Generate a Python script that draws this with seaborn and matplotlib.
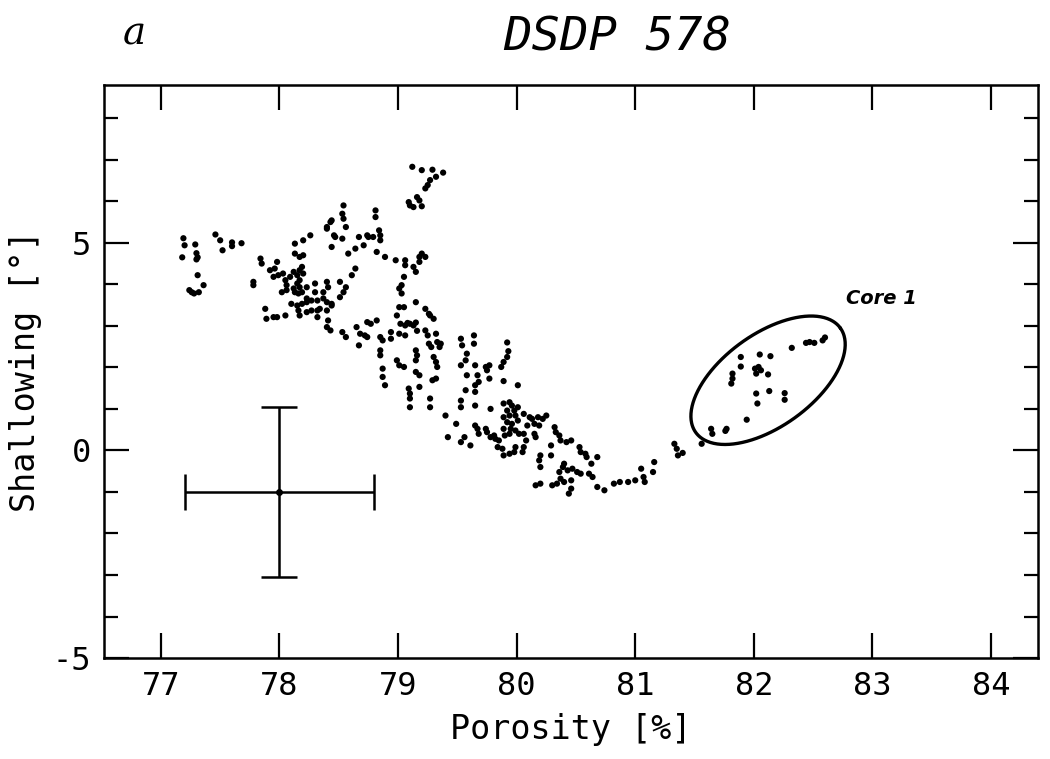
import numpy as np
import pandas as pd
import matplotlib
matplotlib.use("Agg")
import matplotlib.pyplot as plt
import seaborn as sns
from matplotlib.ticker import MultipleLocator

# ---------------- data (porosity [%], shallowing [deg]) ----------------
left_pts = [(77.19, 5.11), (77.20, 4.94), (77.29, 4.96), (77.18, 4.65), (77.30, 4.75),
            (77.31, 4.65), (77.30, 4.60), (77.31, 4.22), (77.26, 3.81), (77.28, 3.78),
            (77.32, 3.81), (77.36, 3.98), (77.24, 3.86), (77.46, 5.20), (77.50, 5.06),
            (77.52, 4.82), (77.60, 5.01), (77.60, 4.92), (77.68, 4.99), (77.78, 4.06),
            (77.78, 3.98)]

cluster_pts = [(77.84, 4.62), (77.85, 4.50), (77.92, 4.34), (77.96, 4.38), (77.98, 4.54),
               (77.95, 4.18), (77.99, 4.22), (78.03, 4.26), (78.05, 4.10), (78.06, 3.98),
               (78.09, 4.18), (78.12, 4.30), (78.15, 4.22), (78.17, 4.34), (78.19, 4.42),
               (78.20, 4.26), (78.17, 4.10), (78.15, 4.02), (78.12, 3.90), (78.17, 3.93),
               (78.19, 3.81), (78.16, 3.78), (78.13, 3.81), (78.06, 3.86), (78.02, 3.81),
               (78.23, 3.93), (78.30, 4.02), (78.30, 3.81), (78.23, 3.66), (78.27, 3.61),
               (78.32, 3.61), (78.37, 3.81), (78.40, 4.06), (78.41, 3.93), (78.37, 3.66),
               (78.40, 3.57), (78.44, 3.53), (78.51, 4.06), (78.56, 3.93), (78.54, 3.81),
               (78.51, 3.69), (78.10, 3.53), (78.15, 3.49), (78.19, 3.53), (78.23, 3.57),
               (78.16, 3.37), (78.17, 3.25), (78.23, 3.33), (78.27, 3.37), (78.32, 3.37),
               (78.34, 3.41), (78.32, 3.21), (78.40, 3.37), (78.41, 3.13), (78.40, 2.97),
               (78.43, 2.89), (78.44, 3.49), (78.53, 2.85), (78.56, 2.73), (77.88, 3.41),
               (77.89, 3.17), (77.95, 3.21), (77.98, 3.21), (78.05, 3.25), (78.13, 4.98),
               (78.20, 5.06), (78.26, 5.18), (78.13, 4.74), (78.17, 4.66), (78.20, 4.70),
               (78.40, 5.38), (78.46, 5.18), (78.44, 4.90), (78.53, 5.10), (78.56, 5.38),
               (78.58, 4.74)]

upper_pts = [(78.54, 5.90), (78.53, 5.70), (78.54, 5.58), (78.44, 5.54), (78.43, 5.50),
             (78.40, 5.34), (78.47, 5.14), (78.81, 5.78), (78.81, 5.62), (78.67, 5.14),
             (78.74, 5.18), (78.75, 5.14), (78.71, 4.94), (78.64, 4.86), (78.84, 5.30),
             (78.85, 5.18), (78.85, 5.06), (78.79, 5.14), (78.82, 4.78), (78.89, 4.66),
             (78.98, 4.58), (79.06, 4.58), (79.06, 4.46), (79.13, 4.42), (79.15, 4.30),
             (79.18, 4.66), (79.20, 4.74), (79.23, 4.66), (79.18, 4.54), (79.05, 4.18),
             (79.03, 3.98), (79.01, 3.90), (79.03, 3.78), (78.64, 4.38), (78.61, 4.22)]

peak_pts = [(79.12, 6.83), (79.20, 6.75), (79.29, 6.76), (79.38, 6.69), (79.32, 6.59),
            (79.27, 6.51), (79.25, 6.39), (79.23, 6.31), (79.16, 6.10), (79.18, 6.02),
            (79.09, 5.98), (79.10, 5.90), (79.13, 5.86), (79.20, 5.88)]

mid_pts = [(78.74, 3.09), (78.82, 3.13), (79.01, 3.45), (79.05, 3.45), (79.15, 3.57),
           (78.99, 3.25), (79.23, 3.41), (79.26, 3.29), (79.30, 3.17), (79.02, 3.05),
           (79.08, 3.07), (79.15, 3.08), (78.94, 2.85), (79.01, 2.81), (79.06, 2.77),
           (79.16, 2.88), (79.23, 2.89), (79.25, 2.77), (79.32, 2.81), (79.33, 2.61),
           (79.36, 2.57), (78.85, 2.73), (78.87, 2.65), (78.94, 2.69), (78.85, 2.41),
           (78.85, 2.29), (78.99, 2.17), (79.01, 2.05), (79.15, 2.41), (79.16, 2.29),
           (79.15, 2.17), (79.30, 2.25), (79.32, 2.13), (79.33, 2.01), (79.05, 2.01),
           (78.87, 1.97), (78.65, 2.97), (78.68, 2.81), (78.74, 2.73), (78.67, 2.53),
           (78.77, 3.05), (78.72, 2.77), (79.27, 3.25), (79.06, 3.01), (79.10, 3.05),
           (79.13, 3.01), (79.26, 2.57), (79.28, 2.49), (79.35, 2.49), (79.15, 1.89),
           (78.87, 1.77), (78.89, 1.57), (79.18, 1.81), (79.18, 1.53), (79.29, 1.69),
           (79.32, 1.73), (79.09, 1.49), (79.10, 1.37), (79.10, 1.25), (79.10, 1.04),
           (79.27, 1.25), (79.27, 1.04)]

right_mid_pts = [(79.53, 2.69), (79.54, 2.53), (79.64, 2.77), (79.64, 2.57), (79.58, 2.33),
                 (79.57, 2.17), (79.53, 2.05), (79.65, 2.05), (79.67, 1.81), (79.58, 1.81),
                 (79.74, 2.01), (79.77, 2.05), (79.75, 1.93), (79.87, 2.01), (79.92, 2.60),
                 (79.93, 2.39), (79.92, 2.25), (79.89, 2.13), (79.68, 1.65), (79.65, 1.57),
                 (79.77, 1.73), (79.89, 1.67), (80.01, 1.57), (79.57, 1.45), (79.65, 1.41),
                 (79.53, 1.20), (79.53, 1.04), (79.65, 1.08), (79.78, 1.00), (79.40, 0.84),
                 (79.49, 0.64), (79.42, 0.32), (79.53, 0.20), (79.56, 0.32), (79.61, 0.12),
                 (79.65, 0.60), (79.67, 0.52), (79.68, 0.40), (79.74, 0.52), (79.75, 0.44),
                 (79.78, 0.32), (79.81, 0.36), (79.82, 0.28), (79.85, 0.24), (79.84, 0.08),
                 (79.88, 0.04), (79.89, -0.12), (79.94, -0.08), (79.98, -0.04), (79.99, 0.08)]

dense_pts = [(79.89, 1.13), (79.94, 1.16), (79.96, 1.08), (79.92, 0.96), (79.98, 0.96),
             (80.01, 1.04), (79.89, 0.80), (79.94, 0.84), (79.99, 0.84), (79.92, 0.68),
             (79.96, 0.64), (80.01, 0.72), (79.89, 0.52), (79.95, 0.52), (79.99, 0.48),
             (79.94, 0.40), (80.02, 0.40), (79.90, 0.36), (80.06, 0.88), (80.11, 0.80),
             (80.13, 0.76), (80.18, 0.80), (80.22, 0.76), (80.25, 0.84), (80.09, 0.60),
             (80.15, 0.64), (80.19, 0.60), (80.06, 0.40), (80.08, 0.24), (80.06, 0.08),
             (80.05, -0.04), (80.15, 0.40), (80.16, 0.32)]

tail_pts = [(80.32, 0.56), (80.33, 0.44), (80.36, 0.36), (80.37, 0.24), (80.42, 0.20),
            (80.46, 0.24), (80.29, 0.12), (80.29, -0.12), (80.20, -0.12), (80.19, -0.24),
            (80.20, -0.40), (80.53, 0.08), (80.54, -0.04), (80.58, -0.08), (80.59, -0.16),
            (80.68, -0.16), (80.40, -0.32), (80.39, -0.40), (80.43, -0.48), (80.47, -0.44),
            (80.51, -0.52), (80.54, -0.56), (80.63, -0.32), (80.61, -0.56), (80.64, -0.64),
            (80.36, -0.52), (80.37, -0.68), (80.46, -0.72), (80.40, -0.76), (80.46, -0.92),
            (80.44, -1.04), (80.16, -0.84), (80.20, -0.80), (80.30, -0.84), (80.34, -0.80),
            (80.68, -0.88), (80.74, -0.96), (80.82, -0.80), (80.87, -0.76), (80.94, -0.76),
            (81.00, -0.72), (81.07, -0.64), (81.08, -0.76), (81.15, -0.52), (81.16, -0.28),
            (81.05, -0.44), (81.33, 0.16), (81.35, 0.04), (81.36, -0.12), (81.40, -0.06),
            (81.56, 0.16)]

core1_pts = [(81.89, 2.25), (81.89, 2.02), (81.82, 1.85), (81.82, 1.73), (81.81, 1.61),
             (82.05, 2.31), (82.14, 2.27), (82.01, 1.97), (82.04, 2.01), (82.06, 1.93),
             (82.02, 1.85), (82.12, 1.83), (82.02, 1.37), (82.03, 1.13), (82.13, 1.43),
             (82.26, 1.38), (82.26, 1.22), (81.94, 0.74), (81.64, 0.52), (81.65, 0.40),
             (81.77, 0.52), (81.76, 0.47), (82.32, 2.47), (82.44, 2.59), (82.47, 2.61),
             (82.51, 2.59), (82.58, 2.65), (82.60, 2.72)]

# error cross (typical uncertainty)
err_x, err_y = 78.0, -1.0
err_dx, err_dy = 0.8, 2.05

# Core 1 ellipse: centre and semi-axis vectors (data units)
ell_center = (82.12, 1.69)
ell_major = (0.609, 1.260)
ell_minor = (-0.229, 0.897)

x_ticks = [77, 78, 79, 80, 81, 82, 83, 84]
y_ticks = [-5, 0, 5]

# ---------------- plotting ----------------
all_pts = (left_pts + cluster_pts + upper_pts + peak_pts + mid_pts + right_mid_pts
           + dense_pts + tail_pts + core1_pts)
df = pd.DataFrame(all_pts, columns=["porosity", "shallowing"])

sns.set_style("ticks")
plt.rcParams['font.family'] = ['DejaVu Sans Mono', 'DejaVu Sans']
plt.rcParams['axes.unicode_minus'] = False
plt.rcParams['text.color'] = 'black'
plt.rcParams['axes.labelcolor'] = 'black'
plt.rcParams['xtick.color'] = 'black'
plt.rcParams['ytick.color'] = 'black'
plt.rcParams['axes.edgecolor'] = 'black'

fig = plt.figure(figsize=(10.5, 7.59), dpi=100)
ax = fig.add_axes([0.099, 0.133, 0.89, 0.755])

sns.scatterplot(data=df, x="porosity", y="shallowing", ax=ax, s=20,
                color="black", edgecolor="none", linewidth=0, legend=False)

ax.errorbar([err_x], [err_y], xerr=err_dx, yerr=err_dy, fmt="o", ms=4,
            color="black", ecolor="black", elinewidth=1.8, capsize=13, capthick=1.8)

t = np.linspace(0, 2 * np.pi, 300)
ex = ell_center[0] + ell_major[0] * np.cos(t) + ell_minor[0] * np.sin(t)
ey = ell_center[1] + ell_major[1] * np.cos(t) + ell_minor[1] * np.sin(t)
ax.plot(ex, ey, color="black", lw=2.4)

ax.text(82.78, 3.66, "Core 1", fontsize=14, style="italic", weight="bold",
        family="DejaVu Sans", va="center", ha="left", color="black")

ax.set_xlim(76.52, 84.4)
ax.set_ylim(-5, 8.8)
ax.set_xticks(x_ticks)
ax.set_yticks(y_ticks)
ax.yaxis.set_minor_locator(MultipleLocator(1))
ax.tick_params(which="both", direction="in", top=True, right=True, width=1.6,
               labelsize=23, pad=9, colors="black")
ax.tick_params(which="major", length=18)
ax.tick_params(which="minor", length=10)
for sp in ax.spines.values():
    sp.set_linewidth(1.8)
    sp.set_color("black")

ax.set_xlabel("Porosity [%]", fontsize=24, labelpad=8)
ax.set_ylabel("Shallowing [°]", fontsize=24, labelpad=8)

fig.text(0.588, 0.95, "DSDP 578", fontsize=34, style="italic",
         ha="center", va="center")
fig.text(0.128, 0.955, "a", fontsize=28, style="italic", family="DejaVu Serif",
         ha="center", va="center")

fig.savefig("out.png", dpi=100)
